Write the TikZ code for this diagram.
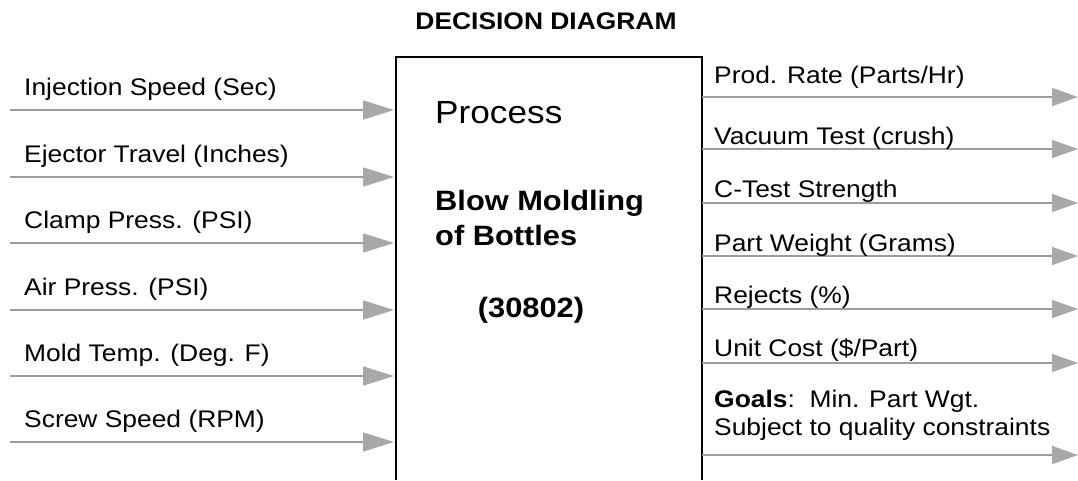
\documentclass[tikz,border=0pt]{standalone}
\usepackage{fontspec}
\setmainfont{Liberation Sans}[FakeStretch=1.1]
\usetikzlibrary{arrows.meta}
\definecolor{flowline}{HTML}{9C9C9C}
\definecolor{flowhead}{HTML}{A8A8A8}
\tikzset{
  lab/.style={anchor=base west, inner sep=0pt, font=\fontsize{24}{28}\selectfont},
  inflow/.style={draw=flowline, line width=1.6pt, shorten >=1.5pt,
    -{Triangle[length=31pt,width=19pt,color=flowhead]}},
  outflow/.style={draw=flowline, line width=1.6pt,
    -{Triangle[length=26pt,width=18pt,color=flowhead]}},
  boxline/.style={draw=black, line width=2pt},
}
\begin{document}
\begin{tikzpicture}[x=1pt,y=-1pt]
\useasboundingbox (0,0) rectangle (1078,480);

% title
\node[anchor=base, inner sep=0pt, font=\bfseries\fontsize{24}{28}\selectfont] (title) at (546,29) {DECISION DIAGRAM};

% process block (open at the bottom)
\node[minimum width=306pt, minimum height=423pt, inner sep=0pt, anchor=north west] (proc) at (395.5,57) {};
\draw[boxline] (proc.south west) -- (proc.north west) -- (proc.north east) -- (proc.south east);

\node[lab, font=\fontsize{32}{36}\selectfont] (ptitle) at (435,123) {Process};
\node[lab, font=\bfseries\fontsize{28}{35}\selectfont] (pname1) at (435,210) {Blow Moldling};
\node[lab, font=\bfseries\fontsize{28}{35}\selectfont] (pname2) at (435,245) {of Bottles};
\node[anchor=base, inner sep=0pt, font=\bfseries\fontsize{28}{35}\selectfont] (pcode) at (531,317) {(30802)};

% inputs
\foreach \i/\y/\t in {1/110/Injection Speed (Sec),
                      2/177/Ejector Travel (Inches),
                      3/243/Clamp Press. (PSI),
                      4/310/Air Press. (PSI),
                      5/376/Mold Temp. (Deg. F),
                      6/442/Screw Speed (RPM)}{
  \coordinate (s\i) at (10,\y);
  \node[lab] (inlab\i) at (24,\y-15) {\t};
  \draw[inflow] (s\i) -- (s\i -| proc.west);
}

% outputs
\foreach \i/\y in {1/97,2/149,3/203,4/256,5/309,6/363,7/455}{
  \coordinate (t\i) at (1078,\y);
  \draw[outflow] (t\i -| proc.east) -- (t\i);
}
\node[lab] (outlab1) at (714,83) {Prod. Rate (Parts/Hr)};
\node[lab] (outlab2) at (714,144.5) {Vacuum Test (crush)};
\node[lab] (outlab3) at (714,197.5) {C-Test Strength};
\node[lab] (outlab4) at (714,251) {Part Weight (Grams)};
\node[lab] (outlab5) at (714,303.5) {Rejects (\%)};
\node[lab] (outlab6) at (714,356) {Unit Cost (\$/Part)};
\node[lab] (goal1) at (714,407) {\textbf{Goals}:\ \ Min. Part Wgt.};
\node[lab] (goal2) at (714,435) {Subject to quality constraints};
\end{tikzpicture}
\end{document}
